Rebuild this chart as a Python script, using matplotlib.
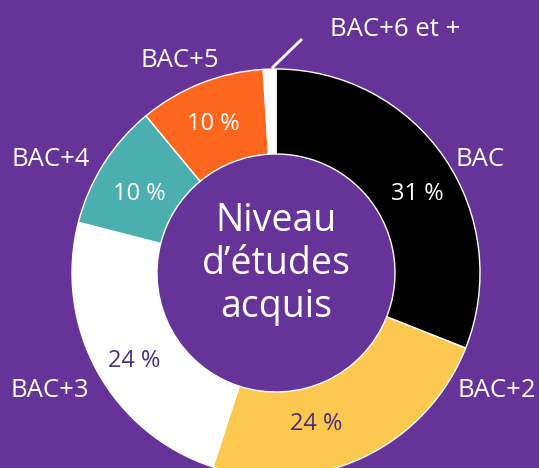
import matplotlib
matplotlib.use("Agg")
import matplotlib.pyplot as plt

categories = ["BAC", "BAC+2", "BAC+3", "BAC+4", "BAC+5", "BAC+6 et +"]
values = [31, 24, 24, 10, 10, 1]
colors = ["#000000", "#fcc850", "#ffffff", "#4bafaf", "#ff671f", "#ffffff"]
pct_colors = ["#ffffff", "#45307f", "#45307f", "#ffffff", "#ffffff", None]
center_title = ["Niveau", "d\u2019\u00e9tudes", "acquis"]

BG = "#663399"
W, H = 539, 468
plt.rcParams['font.family'] = ['Open Sans', 'DejaVu Sans']

fig = plt.figure(figsize=(W / 100, H / 100), dpi=100, facecolor=BG)
ax = fig.add_axes([0, 0, 1, 1])
ax.set_facecolor(BG)

cx, cy = 276, H - 273
R, r_in = 204, 119

ax.pie(values, colors=colors, startangle=90, counterclock=False,
       radius=R, center=(cx, cy),
       wedgeprops=dict(width=R - r_in, edgecolor="white", linewidth=1))

ax.set_xlim(0, W)
ax.set_ylim(0, H)
ax.set_aspect("auto")
ax.axis("off")

def yy(y):
    return H - y

# category labels (pixel layout positions, baseline)
label_pos = [(480, 166), (497, 397), (50, 397), (51, 166), (180, 67), (395, 36)]
for name, (x, y) in zip(categories, label_pos):
    ax.text(x, yy(y), name, ha="center", va="baseline", color="white", fontsize=18.5)

# percentage labels
pct_pos = [(417, 200), (316, 430), (134, 367), (139, 200), (213, 130), None]
for v, c, p in zip(values, pct_colors, pct_pos):
    if p is None:
        continue
    ax.text(p[0], yy(p[1]), f"{v} %", ha="center", va="baseline", color=c, fontsize=17)

# leader line for the small slice
ax.plot([272, 302], [yy(68), yy(39)], color="white", linewidth=2, solid_capstyle="butt")

# centre title
for line, by in zip(center_title, [231, 274, 317]):
    ax.text(cx, yy(by), line, ha="center", va="baseline", color="white", fontsize=27)

fig.savefig("out.png", dpi=100, facecolor=BG)
